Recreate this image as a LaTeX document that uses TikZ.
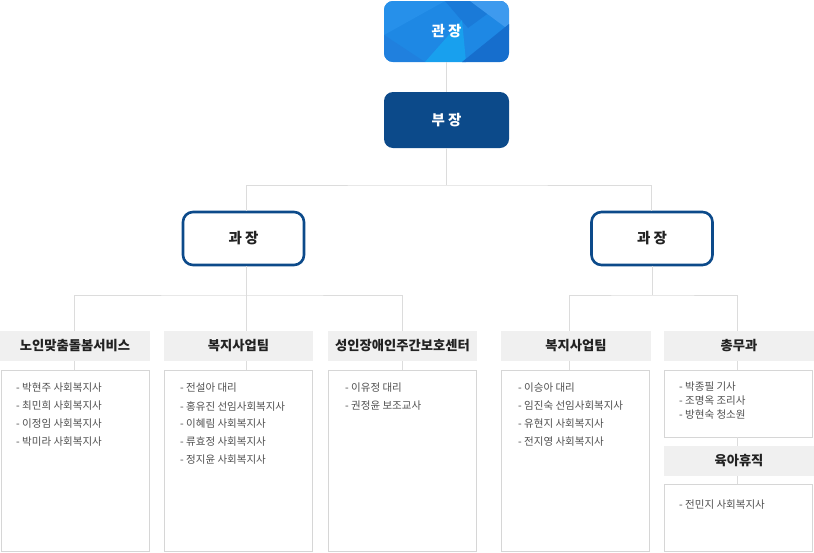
\documentclass[tikz,border=0pt]{standalone}
\usepackage{fontspec}
\setmainfont{Noto Sans CJK KR}
\usetikzlibrary{calc}
\definecolor{darkblue}{RGB}{12,74,138}
\definecolor{conn}{RGB}{220,220,220}
\definecolor{boxline}{RGB}{214,214,214}
\definecolor{headfill}{RGB}{240,240,240}
\definecolor{txt}{RGB}{80,80,80}
\definecolor{headtxt}{RGB}{34,34,34}
\tikzset{
  connline/.style={draw=conn, line width=1pt},
  topbox/.style={rounded corners=9pt, minimum width=125pt, inner sep=0pt, text=white, font=\bfseries\fontsize{14.5}{16}\selectfont},
  midbox/.style={draw=darkblue, line width=2.6pt, rounded corners=10pt, fill=white, minimum width=121pt, minimum height=53pt, inner sep=0pt, text=headtxt, font=\bfseries\fontsize{14.5}{16}\selectfont},
  headbox/.style={fill=headfill, minimum width=150pt, minimum height=30pt, inner sep=0pt, text=headtxt, font=\bfseries\fontsize{13.3}{15}\selectfont},
  listbox/.style={draw=boxline, line width=0.8pt, fill=white, minimum width=148pt, inner sep=0pt},
  item/.style={anchor=west, inner sep=0pt, text=txt, font=\fontsize{10.5}{12}\selectfont},
}
\begin{document}
\begin{tikzpicture}[x=1pt,y=-1pt]
\useasboundingbox (0,0) rectangle (814,552);
% top box with polygon gradient
\begin{scope}
\clip[rounded corners=9pt] (384,1) rectangle (509,62);
\fill[fill={rgb,255:red,30;green,136;blue,228}] (384,1) rectangle (509,62);
\fill[fill={rgb,255:red,38;green,144;blue,234}] (384,1) -- (445,1) -- (384,35) -- cycle;
\fill[fill={rgb,255:red,26;green,122;blue,216}] (445,1) -- (505,1) -- (468,28) -- cycle;
\fill[fill={rgb,255:red,62;green,154;blue,238}] (470,1) -- (509,1) -- (509,30) -- cycle;
\fill[fill={rgb,255:red,24;green,160;blue,238}] (425,62) -- (462,20) -- (466,62) -- cycle;
\fill[fill={rgb,255:red,22;green,110;blue,205}] (462,62) -- (509,24) -- (509,62) -- cycle;
\fill[fill={rgb,255:red,32;green,128;blue,222}] (384,35) -- (425,62) -- (384,62) -- cycle;
\end{scope}
\node[topbox, minimum height=61pt] (gj) at (446.5,31.5) {관 장};
\node[topbox, fill=darkblue, minimum height=56pt] (bj) at (446.5,120) {부 장};
\node[midbox] (gl) at (243.5,238.5) {과 장};
\node[midbox] (gr) at (652,238.5) {과 장};
% headers
\node[headbox] (h1) at (75,346) {노인맞춤돌봄서비스};
\node[headbox, minimum width=149pt] (h2) at (238.5,346) {복지사업팀};
\node[headbox, minimum width=149pt] (h3) at (402.5,346) {성인장애인주간보호센터};
\node[headbox] (h4) at (576,346) {복지사업팀};
\node[headbox] (h5) at (739,346) {총무과};
% list boxes
\node[listbox, minimum height=181pt] (c1) at (75,460.5) {};
\node[listbox, minimum height=181pt] (c2) at (238.5,460.5) {};
\node[listbox, minimum height=181pt] (c3) at (402.5,460.5) {};
\node[listbox, minimum height=181pt] (c4) at (575.5,460.5) {};
\node[listbox, minimum height=67pt] (c5) at (738.5,403.5) {};
\node[headbox] (h6) at (739,461) {육아휴직};
\node[listbox, minimum height=67pt] (c6) at (738.5,517.5) {};
% connectors
\coordinate (xa) at (74,0);
\coordinate (xb) at (246,0);
\coordinate (xc) at (402,0);
\coordinate (xd) at (569,0);
\coordinate (xe) at (737,0);
\coordinate (xf) at (651,0);
\coordinate (j0) at (446.5,185);
\coordinate (jl) at (246,295);
\coordinate (jr) at (652,295);
\draw[connline] (gj.south) -- (bj.north);
\draw[connline] (bj.south) -- (j0);
\draw[connline] (gl.north -| xb) |- (j0) -| (gr.north -| xf);
\draw[connline] (gl.south -| xb) -- (jl);
\draw[connline] (h1.north -| xa) |- (jl) -| (h3.north -| xc);
\draw[connline] (jl) -- (h2.north -| xb);
\draw[connline] (gr.south -| jr) -- (jr);
\draw[connline] (h4.north -| xd) |- (jr) -| (h5.north -| xe);
\draw[connline] (h1.south -| xa) -- (c1.north -| xa);
\draw[connline] (h2.south -| xb) -- (c2.north -| xb);
\draw[connline] (h3.south -| xc) -- (c3.north -| xc);
\draw[connline] (h4.south -| xd) -- (c4.north -| xd);
\draw[connline] (h5.south -| xe) -- (c5.north -| xe);
\draw[connline] (c5.south -| xe) -- (h6.north -| xe);
\draw[connline] (h6.south -| xe) -- (c6.north -| xe);
% list texts
\foreach \t [count=\i] in {박현주 사회복지사, 최민희 사회복지사, 이정임 사회복지사, 박미라 사회복지사}
  \node[item] (ta\i) at (16,{388+18*(\i-1)}) {- \t};
\foreach \t [count=\i] in {전설아 대리, 홍유진 선임사회복지사, 이혜림 사회복지사, 류효정 사회복지사, 정지윤 사회복지사}
  \node[item] (tb\i) at (180,{388+18*(\i-1)}) {- \t};
\foreach \t [count=\i] in {이유정 대리, 권정윤 보조교사}
  \node[item] (tc\i) at (345,{388+18*(\i-1)}) {- \t};
\foreach \t [count=\i] in {이승아 대리, 임진숙 선임사회복지사, 유현지 사회복지사, 전지영 사회복지사}
  \node[item] (td\i) at (518,{388+18*(\i-1)}) {- \t};
\foreach \t [count=\i] in {박종필 기사, 조명옥 조리사, 방현숙 청소원}
  \node[item] (te\i) at (679,{387+14*(\i-1)}) {- \t};
\node[item] (tf1) at (679,505) {- 전민지 사회복지사};
\end{tikzpicture}
\end{document}
